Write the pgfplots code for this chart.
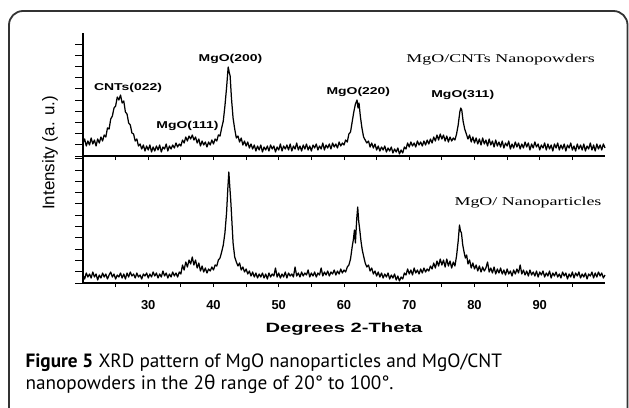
\documentclass[border=0pt]{standalone}
\usepackage{pgfplots}
\pgfplotsset{compat=1.18}
\usepackage{fontspec}
\setmainfont{PT Sans}
\newfontfamily\arialfont{Liberation Sans}
\newfontfamily\timesfont{Liberation Serif}
\newfontfamily\greekfont{Noto Sans}
\newcommand{\wide}[2][1.5]{\scalebox{#1}[1]{#2}}

\pgfplotsset{
  xrd/.style={
    scale only axis, width=522bp,
    xmin=20, xmax=100,
    axis lines=left, axis line style={-, line width=1.2bp},
    tick align=outside,
    major tick length=8bp,
    tick style={line width=1bp, black},
    xtick={25,30,...,95},
    xtick style={/pgfplots/major tick length=4bp},
    yticklabels={},
    clip=false,
  },
  pattern/.style={black, line width=1.25bp, mark=none, line join=round},
}

\begin{document}
\begin{tikzpicture}
\useasboundingbox (0,0) rectangle (629bp,-408bp);
\begin{scope}
\clip (0,0) rectangle (629bp,-408bp);
\draw[line width=1.8bp, black!80, rounded corners=14bp]
  (9bp,-440bp) -- (9bp,-11bp) -- (627.5bp,-11bp) -- (627.5bp,-440bp);
\end{scope}

% MgO/CNTs nanopowders (upper panel)
\begin{axis}[xrd, at={(83bp,-156bp)}, anchor=south west, height=123bp,
  ymin=0, ymax=123, ytick={0,11.2,...,123}, xticklabels={}]
\addplot[pattern] coordinates {
(20.00,13) (20.25,17) (20.50,10) (20.75,15) (21.00,11) (21.25,18) (21.50,12) (21.75,16)
(22.00,10) (22.25,17) (22.50,13) (22.75,19) (23.00,15) (23.25,21) (23.50,19) (23.75,28)
(24.00,27) (24.25,37) (24.50,40) (24.75,48) (25.00,50) (25.25,59) (25.50,56) (25.75,61)
(26.00,53) (26.25,55) (26.50,44) (26.75,42) (27.00,33) (27.25,31) (27.50,23) (27.75,22)
(28.00,15) (28.25,17) (28.50,10) (28.75,12) (29.00,7) (29.25,11) (29.50,5) (29.75,10)
(30.00,6) (30.25,11) (30.50,4) (30.75,9) (31.00,5) (31.25,10) (31.50,6) (31.75,11)
(32.00,4) (32.25,9) (32.50,7) (32.75,12) (33.00,5) (33.25,10) (33.50,7) (33.75,11)
(34.00,8) (34.25,13) (34.50,9) (34.75,12) (35.00,10) (35.25,16) (35.50,13) (35.75,19)
(36.00,15) (36.25,20) (36.50,17) (36.75,21) (37.00,16) (37.25,19) (37.50,13) (37.75,17)
(38.00,10) (38.25,15) (38.50,11) (38.75,14) (39.00,9) (39.25,14) (39.50,11) (39.75,16)
(40.00,12) (40.25,17) (40.50,15) (40.75,21) (41.00,20) (41.25,28) (41.50,35) (41.75,50)
(42.00,68) (42.25,89) (42.40,84) (42.55,80) (42.75,58) (43.00,38) (43.25,27) (43.50,18)
(43.75,20) (44.00,14) (44.25,18) (44.50,11) (44.75,15) (45.00,10) (45.25,14) (45.50,8)
(45.75,12) (46.00,7) (46.25,11) (46.50,5) (46.75,10) (47.00,6) (47.25,11) (47.50,4)
(47.75,9) (48.00,6) (48.25,10) (48.50,5) (48.75,11) (49.00,7) (49.25,10) (49.50,4)
(49.75,9) (50.00,6) (50.25,12) (50.50,5) (50.75,10) (51.00,7) (51.25,11) (51.50,6)
(51.75,12) (52.00,5) (52.25,10) (52.50,7) (52.75,13) (53.00,6) (53.25,10) (53.50,5)
(53.75,11) (54.00,7) (54.25,12) (54.50,6) (54.75,10) (55.00,5) (55.25,11) (55.50,8)
(55.75,12) (56.00,6) (56.25,10) (56.50,7) (56.75,13) (57.00,6) (57.25,11) (57.50,8)
(57.75,12) (58.00,7) (58.25,13) (58.50,9) (58.75,12) (59.00,8) (59.25,14) (59.50,10)
(59.75,13) (60.00,11) (60.25,16) (60.50,14) (60.75,22) (61.00,24) (61.25,34) (61.50,44)
(61.75,52) (62.00,56) (62.15,48) (62.30,53) (62.50,40) (62.75,28) (63.00,19) (63.25,16)
(63.50,13) (63.75,15) (64.00,9) (64.25,13) (64.50,8) (64.75,12) (65.00,6) (65.25,10)
(65.50,5) (65.75,9) (66.00,6) (66.25,10) (66.50,4) (66.75,8) (67.00,5) (67.25,9)
(67.50,3) (67.75,7) (68.00,4) (68.25,8) (68.50,2) (68.75,6) (69.00,3) (69.25,9)
(69.50,7) (69.75,13) (70.00,9) (70.25,14) (70.50,10) (70.75,13) (71.00,9) (71.25,15)
(71.50,11) (71.75,14) (72.00,10) (72.25,15) (72.50,11) (72.75,16) (73.00,12) (73.25,17)
(73.50,13) (73.75,19) (74.00,15) (74.25,21) (74.50,16) (74.75,22) (75.00,17) (75.25,21)
(75.50,15) (75.75,20) (76.00,14) (76.25,19) (76.50,15) (76.75,18) (77.00,16) (77.25,22)
(77.50,31) (77.75,44) (77.90,48) (78.05,46) (78.25,35) (78.50,27) (78.75,22) (79.00,17)
(79.25,21) (79.50,14) (79.75,19) (80.00,13) (80.25,18) (80.50,12) (80.75,17) (81.00,11)
(81.25,18) (81.50,12) (81.75,16) (82.00,10) (82.25,17) (82.50,11) (82.75,15) (83.00,9)
(83.25,16) (83.50,10) (83.75,14) (84.00,9) (84.25,15) (84.50,8) (84.75,13) (85.00,10)
(85.25,15) (85.50,7) (85.75,12) (86.00,8) (86.25,14) (86.50,9) (86.75,13) (87.00,7)
(87.25,12) (87.50,8) (87.75,14) (88.00,9) (88.25,13) (88.50,6) (88.75,12) (89.00,8)
(89.25,14) (89.50,9) (89.75,12) (90.00,6) (90.25,11) (90.50,8) (90.75,13) (91.00,6)
(91.25,12) (91.50,7) (91.75,11) (92.00,5) (92.25,12) (92.50,8) (92.75,13) (93.00,6)
(93.25,11) (93.50,7) (93.75,12) (94.00,5) (94.25,11) (94.50,8) (94.75,13) (95.00,6)
(95.25,10) (95.50,5) (95.75,12) (96.00,7) (96.25,11) (96.50,6) (96.75,12) (97.00,5)
(97.25,10) (97.50,7) (97.75,13) (98.00,6) (98.25,11) (98.50,5) (98.75,12) (99.00,7)
(99.25,11) (99.50,6) (99.75,12) (100.00,8)
};
\begin{scope}[font=\arialfont\bfseries\fontsize{10}{10}\selectfont]
\node at (axis cs:26.9,68) {\wide[1.4]{CNTs(022)}};
\node at (axis cs:42.6,97) {\wide[1.4]{MgO(200)}};
\node at (axis cs:36.0,30) {\wide[1.4]{MgO(111)}};
\node at (axis cs:62.2,64) {\wide[1.4]{MgO(220)}};
\node at (axis cs:78.2,61) {\wide[1.4]{MgO(311)}};
\end{scope}
\node[font=\timesfont\fontsize{12}{12}\selectfont, anchor=east] at (axis cs:99.0,96) {\wide[1.5]{MgO/CNTs Nanopowders}};
\end{axis}

% MgO nanoparticles (lower panel)
\begin{axis}[xrd, at={(83bp,-283bp)}, anchor=south west, height=127bp,
  ymin=0, ymax=127, ytick={0,11.3,...,127},
  xticklabels={,30,,40,,50,,60,,70,,80,,90,},
  xticklabel style={font=\arialfont\bfseries\fontsize{13}{13}\selectfont, yshift=-6bp},
  xlabel={\wide[1.5]{Degrees 2-Theta}},
  xlabel style={font=\arialfont\bfseries\fontsize{13.5}{13.5}\selectfont,
    at={(axis description cs:0.5,0)}, anchor=center, yshift=-46bp}]
\addplot[pattern] coordinates {
(20.00,8) (20.25,4) (20.50,10) (20.75,6) (21.00,9) (21.25,5) (21.50,11) (21.75,6)
(22.00,9) (22.25,3) (22.50,8) (22.75,5) (23.00,10) (23.25,6) (23.50,9) (23.75,4)
(24.00,8) (24.25,11) (24.50,6) (24.75,9) (25.00,4) (25.25,8) (25.50,6) (25.75,10)
(26.00,5) (26.25,9) (26.50,4) (26.75,10) (27.00,6) (27.25,11) (27.50,7) (27.75,9)
(28.00,5) (28.25,10) (28.50,6) (28.75,8) (29.00,4) (29.25,9) (29.50,7) (29.75,10)
(30.00,5) (30.25,9) (30.50,6) (30.75,11) (31.00,7) (31.25,10) (31.50,5) (31.75,9)
(32.00,6) (32.25,12) (32.50,7) (32.75,10) (33.00,5) (33.25,9) (33.50,6) (33.75,11)
(34.00,7) (34.25,10) (34.50,6) (34.75,11) (35.00,9) (35.25,18) (35.50,13) (35.75,21)
(36.00,16) (36.25,23) (36.50,19) (36.75,26) (37.00,18) (37.25,23) (37.50,15) (37.75,20)
(38.00,12) (38.25,17) (38.50,11) (38.75,15) (39.00,10) (39.25,14) (39.50,12) (39.75,16)
(40.00,13) (40.25,18) (40.50,17) (40.75,23) (41.00,25) (41.25,31) (41.50,38) (41.75,50)
(42.00,70) (42.20,95) (42.35,111) (42.50,96) (42.65,82) (42.85,58) (43.00,40) (43.25,26)
(43.50,21) (43.75,17) (44.00,20) (44.25,13) (44.50,16) (44.75,11) (45.00,14) (45.25,9)
(45.50,12) (45.75,7) (46.00,11) (46.25,6) (46.50,10) (46.75,5) (47.00,9) (47.25,6)
(47.50,10) (47.75,5) (48.00,9) (48.25,4) (48.50,10) (48.75,6) (49.00,9) (49.25,7)
(49.50,15) (49.75,6) (50.00,10) (50.25,5) (50.50,9) (50.75,6) (51.00,11) (51.25,5)
(51.50,10) (51.75,7) (52.00,9) (52.25,6) (52.50,16) (52.75,7) (53.00,10) (53.25,6)
(53.50,11) (53.75,7) (54.00,10) (54.25,8) (54.50,13) (54.75,6) (55.00,10) (55.25,7)
(55.50,11) (55.75,6) (56.00,10) (56.25,8) (56.50,15) (56.75,7) (57.00,11) (57.25,8)
(57.50,12) (57.75,7) (58.00,11) (58.25,9) (58.50,13) (58.75,8) (59.00,12) (59.25,9)
(59.50,14) (59.75,10) (60.00,13) (60.25,11) (60.50,16) (60.75,18) (61.00,24) (61.25,36)
(61.45,44) (61.60,53) (61.75,40) (61.95,64) (62.10,76) (62.25,62) (62.40,54) (62.60,42)
(62.80,33) (63.00,27) (63.25,20) (63.50,16) (63.75,18) (64.00,12) (64.25,15) (64.50,9)
(64.75,12) (65.00,7) (65.25,11) (65.50,6) (65.75,10) (66.00,5) (66.25,9) (66.50,6)
(66.75,10) (67.00,4) (67.25,8) (67.50,5) (67.75,9) (68.00,3) (68.25,7) (68.50,2)
(68.75,6) (69.00,4) (69.25,10) (69.50,8) (69.75,14) (70.00,9) (70.25,13) (70.50,8)
(70.75,15) (71.00,10) (71.25,13) (71.50,9) (71.75,14) (72.00,10) (72.25,15) (72.50,11)
(72.75,14) (73.00,12) (73.25,17) (73.50,14) (73.75,20) (74.00,15) (74.25,22) (74.50,17)
(74.75,24) (75.00,18) (75.25,23) (75.50,16) (75.75,24) (76.00,17) (76.25,22) (76.50,15)
(76.75,21) (77.00,17) (77.25,27) (77.50,42) (77.70,58) (77.85,52) (78.00,50) (78.20,38)
(78.40,31) (78.60,25) (78.80,28) (79.00,19) (79.25,23) (79.50,15) (79.75,20) (80.00,14)
(80.25,18) (80.50,12) (80.75,17) (81.00,11) (81.25,16) (81.50,12) (81.75,15) (82.00,21)
(82.25,11) (82.50,15) (82.75,10) (83.00,16) (83.25,9) (83.50,14) (83.75,10) (84.00,15)
(84.25,9) (84.50,13) (84.75,8) (85.00,14) (85.25,9) (85.50,12) (85.75,7) (86.00,13)
(86.25,9) (86.50,14) (86.75,10) (87.00,18) (87.25,9) (87.50,13) (87.75,8) (88.00,12)
(88.25,7) (88.50,13) (88.75,8) (89.00,11) (89.25,7) (89.50,12) (89.75,6) (90.00,11)
(90.25,8) (90.50,12) (90.75,6) (91.00,10) (91.25,7) (91.50,12) (91.75,5) (92.00,10)
(92.25,7) (92.50,11) (92.75,6) (93.00,9) (93.25,5) (93.50,11) (93.75,7) (94.00,10)
(94.25,4) (94.50,9) (94.75,6) (95.00,11) (95.25,5) (95.50,10) (95.75,7) (96.00,11)
(96.25,5) (96.50,9) (96.75,6) (97.00,10) (97.25,4) (97.50,9) (97.75,7) (98.00,11)
(98.25,5) (98.50,10) (98.75,6) (99.00,11) (99.25,7) (99.50,10) (99.75,5) (100.00,8)
};
\node[font=\timesfont\fontsize{12}{12}\selectfont, anchor=east] at (axis cs:100,80) {\wide[1.5]{MgO/ Nanoparticles}};
\end{axis}

\node[rotate=90, font=\arialfont\fontsize{17}{17}\selectfont] at (50bp,-153bp) {Intensity (a. u.)};

\node[anchor=base west, font=\fontsize{19.3}{19.3}\selectfont] at (22bp,-367bp)
  {\textbf{Figure 5} XRD pattern of MgO nanoparticles and MgO/CNT};
\node[anchor=base west, font=\fontsize{19.3}{19.3}\selectfont] at (22bp,-389bp)
  {nanopowders in the 2{\greekfont θ} range of 20° to 100°.};
\end{tikzpicture}
\end{document}
